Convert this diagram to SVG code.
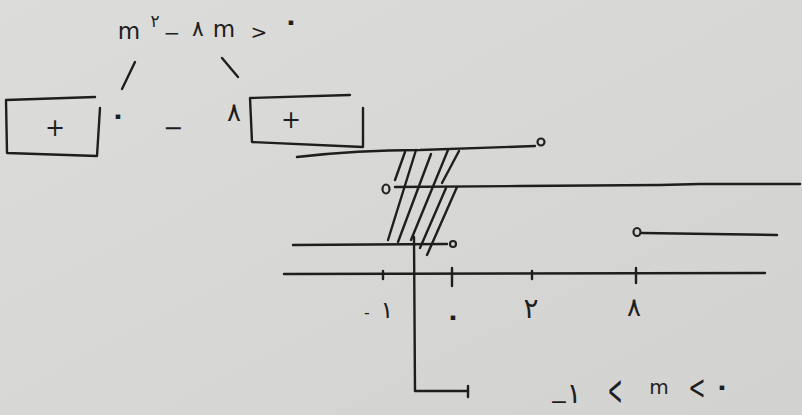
<svg xmlns="http://www.w3.org/2000/svg" width="802" height="415" viewBox="0 0 802 415">
  <defs>
    <linearGradient id="paper" x1="0" y1="0" x2="1" y2="1">
      <stop offset="0" stop-color="#dcdcda"/>
      <stop offset="1" stop-color="#d2d2d0"/>
    </linearGradient>
    <style>
      .ink { fill: none; stroke: #1e1e1e; stroke-width: 2.4; stroke-linecap: round; stroke-linejoin: round; }
      .thin { fill: none; stroke: #222; stroke-width: 2.2; stroke-linecap: round; }
      .t { fill: #1e1e1e; font-family: "DejaVu Sans", "Noto Sans", sans-serif; text-anchor: middle; }
      .z { font-size: 26px; font-weight: bold; }
    </style>
  </defs>
  <rect x="0" y="0" width="802" height="415" fill="url(#paper)"/>

  <g id="inequality-top">
    <text class="t" x="129" y="39" font-size="23">m</text>
    <text class="t" x="155" y="27" font-size="17">۲</text>
    <text class="t" x="172" y="40" font-size="20">−</text>
    <text class="t" x="198" y="36" font-size="22">۸</text>
    <text class="t" x="224" y="37" font-size="23">m</text>
    <text class="t" x="259" y="39" font-size="20">&gt;</text>
    <text class="t z" x="291" y="30">۰</text>
  </g>

  <g id="branches">
    <path class="ink" d="M135 62 L122 89"/>
    <path class="ink" d="M222 58 L238 77"/>
  </g>

  <g id="box-left">
    <path class="ink" d="M6 100 L95 97 M6 100 L7 153 L97 156 L100 108"/>
    <text class="t" x="55" y="136" font-size="24">+</text>
  </g>

  <g id="roots">
    <text class="t z" x="118" y="124">۰</text>
    <text class="t" x="173" y="136" font-size="24">−</text>
    <text class="t" x="234" y="121" font-size="26">۸</text>
  </g>

  <g id="box-right">
    <path class="ink" d="M250 98 L350 95 M250 98 L252 142 L363 147 L363 108"/>
    <text class="t" x="291" y="128" font-size="24">+</text>
  </g>

  <g id="sets">
    <path class="ink" d="M297 157 C340 152 380 150 420 150 L535 146"/>
    <circle class="thin" cx="541" cy="142" r="3.5"/>
    <ellipse class="thin" cx="386" cy="189" rx="3.5" ry="4.5"/>
    <path class="ink" d="M395 187 L520 186 L660 185 L700 184 L800 184"/>
    <path class="ink" d="M293 245 L447 244"/>
    <circle class="thin" cx="453" cy="244" r="3"/>
    <ellipse class="thin" cx="637" cy="232" rx="3.5" ry="4"/>
    <path class="ink" d="M642 233 L777 235"/>
  </g>

  <g id="hatching">
    <path class="ink" d="M405 152 L395 180"/>
    <path class="ink" d="M416 150 L388 240"/>
    <path class="ink" d="M431 154 L398 242"/>
    <path class="ink" d="M448 150 L411 240"/>
    <path class="ink" d="M459 151 L442 183"/>
    <path class="ink" d="M446 188 L420 248"/>
    <path class="ink" d="M457 187 L427 255"/>
  </g>

  <g id="number-line">
    <path class="ink" d="M284 274 L765 273"/>
    <path class="ink" d="M383 271 L383 279 M452 268 L452 286 M532 271 L532 279 M636 268 L636 283"/>
    <text class="t" x="367" y="318" font-size="16">-</text>
    <text class="t" x="387" y="318" font-size="24">۱</text>
    <text class="t z" x="453" y="325">۰</text>
    <text class="t" x="531" y="318" font-size="28">۲</text>
    <text class="t" x="634" y="316" font-size="26">۸</text>
  </g>

  <g id="result-arrow">
    <path class="ink" d="M414 237 L415 391 L468 391"/>
    <path class="ink" d="M468 386 L468 397"/>
  </g>

  <g id="answer">
    <text class="t" x="559" y="409" font-size="22">−</text>
    <text class="t" x="574" y="403" font-size="28">۱</text>
    <text class="t" font-size="30" transform="translate(615 391) scale(0.6 1.4)" x="0" y="10">&lt;</text>
    <text class="t" x="659" y="394" font-size="20">m</text>
    <text class="t" font-size="26" transform="translate(697 388) scale(0.8 1.3)" x="0" y="8.6">&lt;</text>
    <text class="t z" x="722" y="395">۰</text>
  </g>
</svg>
